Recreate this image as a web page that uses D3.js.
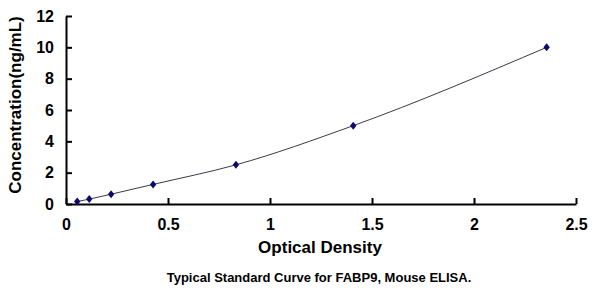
<!DOCTYPE html>
<html><head><meta charset="utf-8">
<script src="https://cdn.jsdelivr.net/npm/d3@7"></script>
<style>body{margin:0;background:#fff}svg{display:block}text{font-family:"Liberation Sans",Arial,sans-serif;font-weight:bold;fill:#000}</style>
</head><body>
<svg id="c" width="600" height="290"></svg>
<script>
const opticalDensity = [0.055, 0.114, 0.221, 0.427, 0.833, 1.408, 2.356];
const concentration = [0.156, 0.312, 0.625, 1.25, 2.5, 5, 10];
const xTicks = [0, 0.5, 1, 1.5, 2, 2.5];
const yTicks = [0, 2, 4, 6, 8, 10, 12];
const xTitle = "Optical Density";
const yTitle = "Concentration(ng/mL)";
const caption = "Typical Standard Curve for FABP9, Mouse ELISA.";

const svg = d3.select("#c");
const x = d3.scaleLinear().domain([0, 2.5]).range([66, 576]);
const y = d3.scaleLinear().domain([0, 12]).range([204, 16]);

const xAxis = svg.append("g").attr("transform", `translate(0,${y(0)})`)
  .call(d3.axisBottom(x).tickValues(xTicks).tickFormat(d => d).tickSizeInner(-6).tickSizeOuter(0).tickPadding(15));
const yAxis = svg.append("g").attr("transform", `translate(${x(0)},0)`)
  .call(d3.axisLeft(y).tickValues(yTicks).tickSizeInner(-6).tickSizeOuter(0).tickPadding(12));
[xAxis, yAxis].forEach(a => {
  a.select(".domain").attr("stroke", "#000").attr("stroke-width", 2);
  a.selectAll(".tick line").attr("stroke", "#000").attr("stroke-width", 2);
  a.selectAll("text").style("font-size", "16px").style("font-weight", "bold").attr("fill", "#000");
});

const pts = opticalDensity.map((d, i) => [d, concentration[i]]);
svg.append("path").datum(pts)
  .attr("fill", "none").attr("stroke", "#3a3a4a").attr("stroke-width", 1)
  .attr("d", d3.line().x(d => x(d[0])).y(d => y(d[1])).curve(d3.curveMonotoneX));

svg.selectAll(".pt").data(pts).enter().append("path")
  .attr("transform", d => `translate(${x(d[0])},${y(d[1])})`)
  .attr("d", "M0,-4L3.2,0L0,4L-3.2,0Z").attr("fill", "#0a0a6a");

svg.append("text").attr("x", 320).attr("y", 253).attr("text-anchor", "middle")
  .style("font-size", "17px").text(xTitle);
svg.append("text").attr("transform", "translate(21,105) rotate(-90)").attr("text-anchor", "middle")
  .style("font-size", "17px").text(yTitle);
svg.append("text").attr("x", 319).attr("y", 282).attr("text-anchor", "middle")
  .style("font-size", "13px").text(caption);
</script>
</body></html>
